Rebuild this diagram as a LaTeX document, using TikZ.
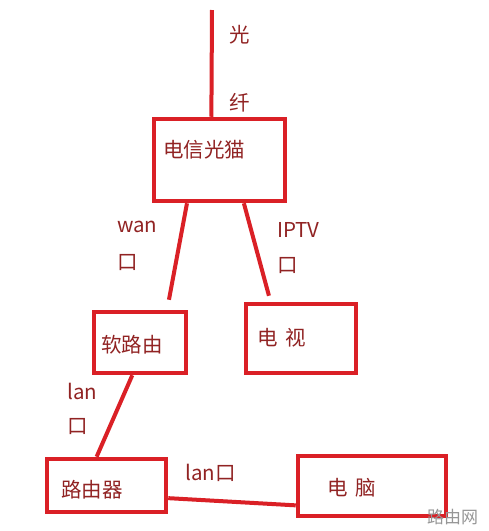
\documentclass[tikz,border=0pt]{standalone}
\usepackage{fontspec}
\setmainfont{Noto Sans CJK SC}
\usetikzlibrary{calc}
\definecolor{boxred}{RGB}{218,32,38}
\definecolor{txtred}{RGB}{145,35,35}
\definecolor{wmgray}{RGB}{150,150,150}
\begin{document}
\begin{tikzpicture}[x=1pt,y=-1pt,
  devbox/.style={draw=boxred,line width=4.5pt,minimum width=#1,inner sep=0pt},
  txt/.style={text=txtred,font=\fontsize{20.5}{23}\selectfont,inner sep=0pt},
  wire/.style={draw=boxred,line width=4pt}]
\useasboundingbox[fill=white] (0,0) rectangle (489,531);
% boxes
\node[devbox=131pt,minimum height=82pt] (modem) at (219.5,160) {};
\node[devbox=92pt,minimum height=61pt] (soft) at (140,342.5) {};
\node[devbox=110pt,minimum height=69pt] (tv) at (301,338.5) {};
\node[devbox=119pt,minimum height=53pt] (router) at (106.5,485.5) {};
\node[devbox=148pt,minimum height=60pt] (pc) at (372,486) {};
% box texts
\node[txt,anchor=west] (modemt) at (163,150) {电信光猫};
\node[txt,anchor=west] (softt) at (101,345) {软路由};
\node[txt,anchor=west] (tvt) at (257,338) {电\hspace{0.4em}视};
\node[txt,anchor=west] (routert) at (61,490) {路由器};
\node[txt,anchor=west] (pct) at (327,488) {电\hspace{0.4em}脑};
% connector labels
\node[txt,anchor=west] (guang) at (229,35) {光};
\node[txt,anchor=west] (xian) at (229,103) {纤};
\node[txt,anchor=west] (wan) at (117,227) {wan};
\node[txt,anchor=west] (wank) at (117,263) {口};
\node[txt,anchor=west] (iptv) at (277,230) {IPTV};
\node[txt,anchor=west] (iptvk) at (277,266) {口};
\node[txt,anchor=west] (lan1) at (67,391) {lan};
\node[txt,anchor=west] (lan1k) at (67,427) {口};
\node[txt,anchor=west] (lan2) at (185,473) {lan口};
% watermark
\node[text=wmgray,font=\fontsize{17}{20}\selectfont,inner sep=0pt,anchor=west] (wm) at (427,517) {路由网};
% connectors
\coordinate (fibertop) at (212,10);
\draw[wire] (fibertop) -- ($(modem.north west)!0.44!(modem.north east)$);
\draw[wire] ($(modem.south west)!0.26!(modem.south east)$) -- ($(soft.north west)!0.80!(soft.north east)+(0,-10)$);
\draw[wire] ($(modem.south west)!0.68!(modem.south east)$) -- ($(tv.north west)!0.22!(tv.north east)+(0,-6)$);
\draw[wire] ($(soft.south west)!0.42!(soft.south east)$) -- ($(router.north west)!0.42!(router.north east)$);
\draw[wire] ($(router.north east)!0.72!(router.south east)$) -- ($(pc.north west)!0.80!(pc.south west)$);
\end{tikzpicture}
\end{document}
